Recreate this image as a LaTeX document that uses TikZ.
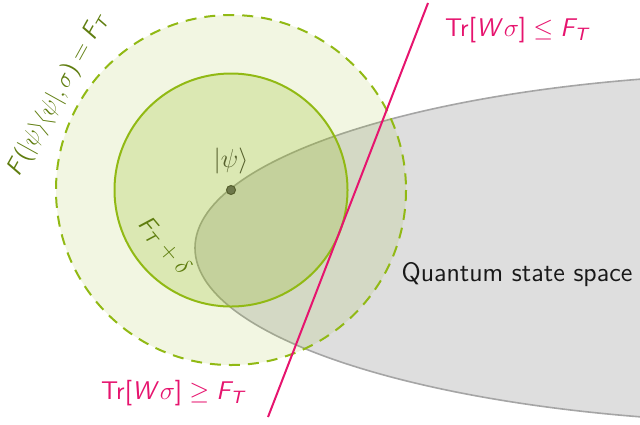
\RequirePackage{fix-cm}
\documentclass[tikz,border=0pt]{standalone}
\usepackage{amsmath,amssymb}
\usepackage{xcolor}
\usepackage{tikz}
\usetikzlibrary{positioning}

\DeclareMathAlphabet{\mathsi}{OT1}{cmss}{m}{sl}
\SetSymbolFont{operators}{normal}{OT1}{cmss}{m}{n}

\definecolor{fidgreen}{RGB}{145,185,20}
\definecolor{labgreen}{RGB}{95,125,15}
\definecolor{psigreen}{RGB}{85,95,45}
\definecolor{dotgreen}{RGB}{110,120,75}
\definecolor{witpink}{RGB}{230,20,110}
\definecolor{spacegray}{RGB}{222,222,222}
\definecolor{edgegray}{RGB}{165,165,165}

\begin{document}
\begin{tikzpicture}[x=0.5pt,y=-0.5pt,line width=1pt,
    fidlab/.style={text=labgreen,font=\fontsize{12}{14}\selectfont},
    witlab/.style={text=witpink,font=\fontsize{12.8}{15}\selectfont\sffamily}]
    \useasboundingbox (0,0) rectangle (640,424);
    \clip (0,0) rectangle (640,424);
    % state space
    \draw[fill=spacegray, draw=edgegray, line width=0.8pt] (800,248) ellipse [x radius=605, y radius=175];
    % fidelity balls round the target
    \coordinate (psi) at (231,190);
    \draw[fill=fidgreen, fill opacity=0.12, draw=fidgreen, dash pattern=on 5.5pt off 4pt] (psi) circle (175);
    \draw[fill=fidgreen, fill opacity=0.23, draw=fidgreen] (psi) circle (116.5);
    \node[circle, fill=dotgreen, draw=psigreen, line width=0.5pt, inner sep=0pt, minimum size=4.5pt] (psidot) at (psi) {};
    \node[text=psigreen, font=\fontsize{13}{15}\selectfont, above=1.5pt of psidot] (psilabel) {$|\psi\rangle$};
    % witness hyperplane
    \coordinate (wtop) at (428,3);
    \coordinate (wbot) at (268,417);
    \draw[witpink] (wtop) -- (wbot);
    % labels
    \node[witlab] (witup) at (518,30) {$\mathrm{Tr}[\mathsi{W}\sigma] \leq \mathsi{F}_{\mathsi{T}}$};
    \node[witlab] (witdown) at (174,393) {$\mathrm{Tr}[\mathsi{W}\sigma] \geq \mathsi{F}_{\mathsi{T}}$};
    \node[font=\fontsize{13.3}{16}\selectfont\sffamily, text=black!90] (qss) at (517,275) {Quantum state space};
    \node[fidlab, rotate=61] (fidout) at (58,94) {$\mathsi{F}(|\psi\rangle\langle\psi|,\sigma) = \mathsi{F}_{\mathsi{T}}$};
    \node[fidlab, rotate=-50] (fidin) at (164,246) {$\mathsi{F}_{\mathsi{T}} + \delta$};
  \end{tikzpicture}
\end{document}
